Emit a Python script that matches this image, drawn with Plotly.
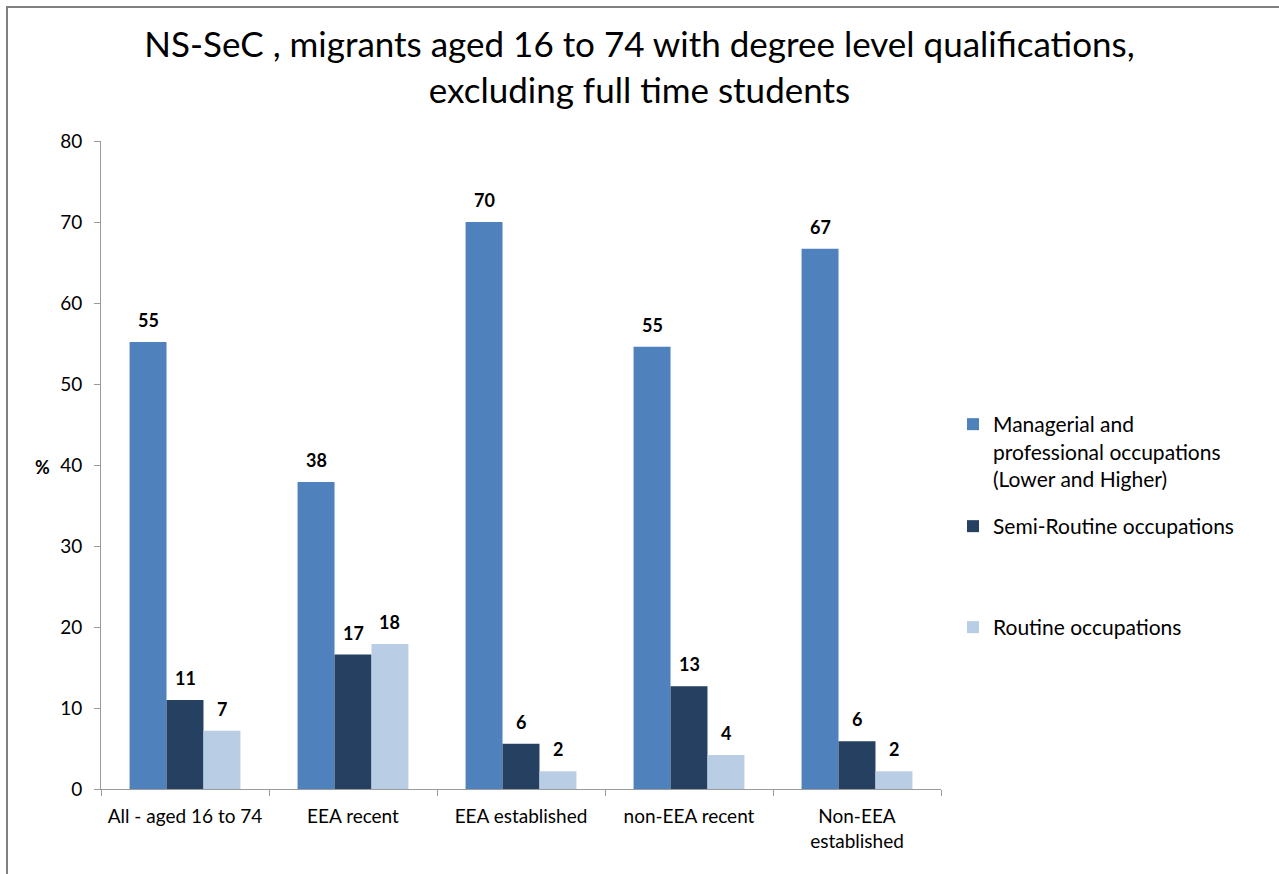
import plotly.graph_objects as go

categories = ["All - aged 16 to 74", "EEA recent", "EEA established", "non-EEA recent", "Non-EEA<br>established"]
managerial = [55.2, 37.9, 70.0, 54.6, 66.7]
semi_routine = [11.0, 16.6, 5.6, 12.7, 5.9]
routine = [7.2, 17.9, 2.2, 4.2, 2.2]

series_names = [
    "Managerial and<br>professional occupations<br>(Lower and Higher)",
    "Semi-Routine occupations",
    "Routine occupations",
]
series_values = [managerial, semi_routine, routine]
colors = ["#4F81BD", "#254061", "#B9CDE5"]
legends = ["legend", "legend2", "legend3"]

FONT = "Lato, 'Open Sans', sans-serif"

W, H = 1279, 874
L, R, T, B = 101, 338, 141, 85
pw = W - L - R
ph = H - T - B
BARGAP = 0.34
n_series = len(series_values)
cat_px = pw / len(categories)
bar_px = cat_px * (1 - BARGAP) / n_series

def px_x(px):
    return (px - L) / pw

def px_y(py):
    return (H - B - py) / ph

fig = go.Figure()
annotations = []
for j, (name, vals, col, lg) in enumerate(zip(series_names, series_values, colors, legends)):
    fig.add_trace(go.Bar(
        x=categories, y=vals, name=name, marker=dict(color=col, line=dict(width=0)),
        legend=lg, showlegend=True,
    ))
    for c, v in zip(categories, vals):
        annotations.append(dict(
            x=c, y=v, xref="x", yref="y", text=f"<b>{v:.0f}</b>", showarrow=False,
            xanchor="center", yanchor="bottom", xshift=(j - (n_series - 1) / 2) * bar_px,
            yshift=9, font=dict(family=FONT, size=18, color="#000000"),
        ))

annotations.append(dict(
    text="<b>%</b>", xref="paper", yref="paper", x=px_x(42), y=px_y(467),
    xanchor="center", yanchor="middle", showarrow=False,
    font=dict(family=FONT, size=18, color="#000000"),
))

legend_common = dict(
    font=dict(family=FONT, size=21, color="#000000"),
    bgcolor="rgba(0,0,0,0)", valign="top", xanchor="left", yanchor="top",
    itemclick=False, itemdoubleclick=False,
)

fig.update_layout(
    width=W, height=H,
    margin=dict(l=L, r=R, t=T, b=B),
    paper_bgcolor="#FFFFFF", plot_bgcolor="#FFFFFF",
    barmode="group", bargap=BARGAP, bargroupgap=0,
    showlegend=True,
    font=dict(family=FONT, size=18, color="#000000"),
    title=dict(
        text="NS-SeC , migrants aged 16 to 74 with degree level qualifications,<br>excluding full time students",
        font=dict(family=FONT, size=35, color="#000000"),
        x=0.5, xanchor="center", y=1 - 57 / H, yanchor="top",
    ),
    xaxis=dict(
        showline=True, linecolor="#9A9A9A", linewidth=1,
        ticks="outside", ticklen=6, tickcolor="#9A9A9A", tickson="boundaries",
        showgrid=False, tickfont=dict(family=FONT, size=19, color="#000000"),
        ticklabelstandoff=10,
    ),
    yaxis=dict(
        range=[0, 80], dtick=10, showline=True, linecolor="#9A9A9A", linewidth=1,
        ticks="outside", ticklen=6, tickcolor="#9A9A9A",
        showgrid=False, zeroline=False, tickfont=dict(family=FONT, size=19, color="#000000"),
        ticklabelstandoff=8,
    ),
    legend=dict(x=px_x(953), y=px_y(404), **legend_common),
    legend2=dict(x=px_x(953), y=px_y(506), **legend_common),
    legend3=dict(x=px_x(953), y=px_y(607), **legend_common),
    annotations=annotations,
    shapes=[dict(
        type="rect", xref="paper", yref="paper",
        x0=px_x(7), x1=px_x(1400), y0=px_y(1000), y1=px_y(7),
        line=dict(color="#808080", width=2), fillcolor="rgba(0,0,0,0)", layer="below",
    )],
)

fig.write_html(
    "out.html",
    config={"displayModeBar": False},
    post_script="document.body.style.margin='0';document.body.style.overflow='hidden';",
)
